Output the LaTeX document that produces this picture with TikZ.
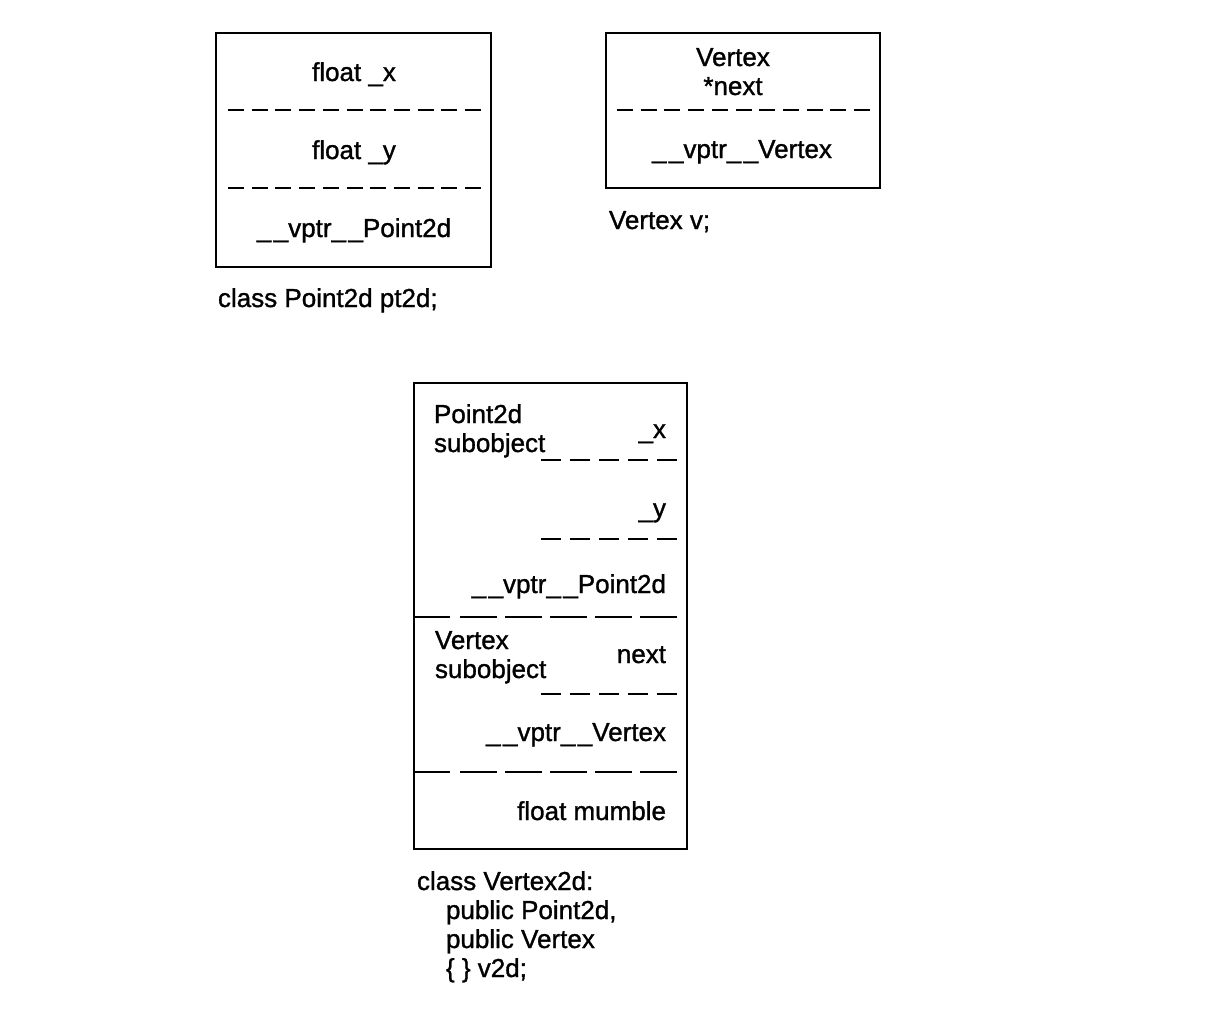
\documentclass[tikz,border=0pt]{standalone}
\usepackage{fontspec}
\setmainfont[FakeBold=1.2,AutoFakeBold=1.2]{Liberation Sans}
\newcommand{\dblus}{\_\kern2.5pt\_}
\begin{document}
\begin{tikzpicture}[x=1pt,y=-1pt,line width=2pt,
  txt/.style={inner sep=0pt,font=\fontsize{26}{29}\selectfont\bfseries},
  ctr/.style={txt,anchor=base},
  lft/.style={txt,anchor=base west},
  rgt/.style={txt,anchor=base east},
  topdash/.style={line width=2.4pt,dash pattern=on 16pt off 7.7pt},
  shortdash/.style={line width=2.2pt,dash pattern=on 20pt off 9pt},
  longdash/.style={dash pattern=on 37pt off 8pt}]
\useasboundingbox (0,0) rectangle (1214,1010);
% ---- Point2d box
\draw (216,33) rectangle (491,267);
\draw[topdash] (228,110) -- (481,110);
\draw[topdash] (228,188) -- (481,188);
\node[ctr] (px) at (354,81) {float \_x};
\node[ctr] (py) at (354,159) {float \_y};
\node[ctr] (pv) at (354,237) {\dblus vptr\dblus Point2d};
\node[lft] (pcap) at (217,307) {class Point2d pt2d;};
% ---- Vertex box
\draw (606,33) rectangle (880,188);
\draw[topdash] (617,110) -- (870,110);
\node[ctr] (vv) at (733,66) {Vertex};
\node[ctr] (vn) at (733,95) {*next};
\node[ctr] (vp) at (742,158) {\dblus vptr\dblus Vertex};
\node[lft] (vcap) at (608,229) {Vertex v;};
% ---- Vertex2d box
\draw (414,383) rectangle (687,849);
\draw[shortdash] (541,460) -- (677,460);
\draw[shortdash] (541,539) -- (677,539);
\draw (414,617) -- (450,617);
\draw[longdash] (460,617) -- (677,617);
\draw[shortdash] (541,694) -- (677,694);
\draw (414,772) -- (450,772);
\draw[longdash] (460,772) -- (677,772);
\node[lft] (wp1) at (433,423) {Point2d};
\node[lft] (wp2) at (433,452) {subobject};
\node[rgt] (wx) at (667,438) {\_x};
\node[rgt] (wy) at (667,517) {\_y};
\node[rgt] (wvp) at (667,593) {\dblus vptr\dblus Point2d};
\node[lft] (wv1) at (434,649) {Vertex};
\node[lft] (wv2) at (434,678) {subobject};
\node[rgt] (wn) at (667,663) {next};
\node[rgt] (wvv) at (667,741) {\dblus vptr\dblus Vertex};
\node[rgt] (wm) at (667,820) {float mumble};
\node[lft] (c1) at (416,890) {class Vertex2d:};
\node[lft] (c2) at (445,919) {public Point2d,};
\node[lft] (c3) at (445,948) {public Vertex};
\node[lft] (c4) at (445,977) {\{ \} v2d;};
\end{tikzpicture}
\end{document}
